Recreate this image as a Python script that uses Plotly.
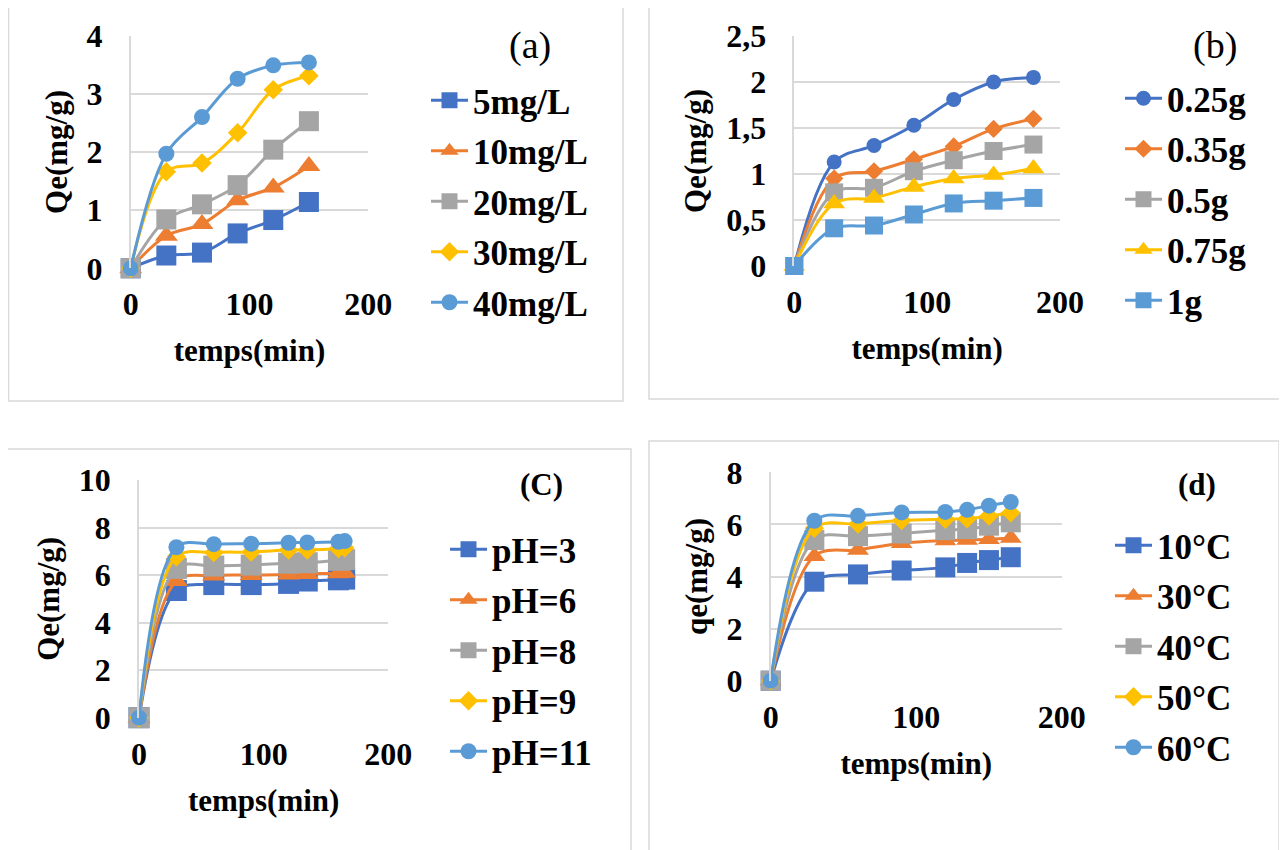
import plotly.graph_objects as go

# page body has an 8px margin: design in screen pixels, convert to figure pixels
OFF = 8
SW, SH = 1287, 850
W, H = SW - OFF, SH - OFF

# ---------------- data ----------------
time_a = [0, 30, 60, 90, 120, 150]
a_names = ["5mg/L", "10mg/L", "20mg/L", "30mg/L", "40mg/L"]
a_5 = [0, 0.22, 0.27, 0.60, 0.83, 1.14]
a_10 = [0, 0.56, 0.76, 1.17, 1.39, 1.76]
a_20 = [0, 0.84, 1.10, 1.43, 2.04, 2.53]
a_30 = [0, 1.66, 1.81, 2.33, 3.07, 3.31]
a_40 = [0, 1.97, 2.60, 3.26, 3.49, 3.54]

time_b = [0, 30, 60, 90, 120, 150, 180]
b_names = ["0.25g", "0.35g", "0.5g", "0.75g", "1g"]
b_025 = [0, 1.13, 1.31, 1.53, 1.81, 2.00, 2.05]
b_035 = [0, 0.95, 1.03, 1.16, 1.30, 1.49, 1.60]
b_05 = [0, 0.80, 0.85, 1.03, 1.15, 1.25, 1.32]
b_075 = [0, 0.68, 0.74, 0.86, 0.95, 0.99, 1.06]
b_1 = [0, 0.41, 0.44, 0.56, 0.68, 0.71, 0.74]

time_c = [0, 30, 60, 90, 120, 135, 160, 165]
c_names = ["pH=3", "pH=6", "pH=8", "pH=9", "pH=11"]
c_3 = [0, 5.35, 5.60, 5.60, 5.65, 5.75, 5.80, 5.83]
c_6 = [0, 5.75, 5.98, 6.00, 6.02, 6.05, 6.08, 6.10]
c_8 = [0, 6.28, 6.38, 6.42, 6.50, 6.52, 6.62, 6.65]
c_9 = [0, 6.77, 6.95, 6.97, 7.05, 7.05, 7.12, 7.15]
c_11 = [0, 7.17, 7.30, 7.32, 7.36, 7.37, 7.40, 7.43]

time_d = [0, 30, 60, 90, 120, 135, 150, 165]
d_names = ["10°C", "30°C", "40°C", "50°C", "60°C"]
d_10 = [0, 3.80, 4.08, 4.23, 4.35, 4.52, 4.63, 4.74]
d_30 = [0, 4.78, 5.02, 5.28, 5.38, 5.40, 5.43, 5.48]
d_40 = [0, 5.40, 5.55, 5.65, 5.78, 5.82, 5.95, 6.08]
d_50 = [0, 5.85, 6.02, 6.15, 6.20, 6.22, 6.32, 6.45]
d_60 = [0, 6.14, 6.33, 6.46, 6.48, 6.56, 6.72, 6.86]

x_ticks = [0, 100, 200]
a_yticks = [0, 1, 2, 3, 4]
a_ytext = ["0", "1", "2", "3", "4"]
b_yticks = [0, 0.5, 1, 1.5, 2, 2.5]
b_ytext = ["0", "0,5", "1", "1,5", "2", "2,5"]
c_yticks = [0, 2, 4, 6, 8, 10]
c_ytext = ["0", "2", "4", "6", "8", "10"]
d_yticks = [0, 2, 4, 6, 8]
d_ytext = ["0", "2", "4", "6", "8"]

x_title = "temps(min)"
y_titles = ["Qe(mg/g)", "Qe(mg/g)", "Qe(mg/g)", "qe(mg/g)"]
panel_labels = ["(a)", "(b)", "(C)", "(d)"]

# ---------------- styles ----------------
BLUE, ORANGE, GRAY, YELLOW, LBLUE = "#4472C4", "#ED7D31", "#A5A5A5", "#FFC000", "#5B9BD5"
FONT = "Liberation Serif, Times New Roman, serif"
GRID = "#D9D9D9"


def px_x(p):
    return (p - OFF) / W


def px_y(p):
    return 1 - (p - OFF) / H


fig = go.Figure()

# marker specs per panel: (color, symbol, size)
specs_a = [(BLUE, "square", 20), (ORANGE, "triangle-up", 20), (GRAY, "square", 20),
           (YELLOW, "diamond", 15), (LBLUE, "circle", 16)]
specs_b = [(BLUE, "circle", 15), (ORANGE, "diamond", 14), (GRAY, "square", 18),
           (YELLOW, "triangle-up", 19), (LBLUE, "square", 18)]
specs_c = [(BLUE, "square", 21), (ORANGE, "triangle-up", 20), (GRAY, "square", 21),
           (YELLOW, "diamond", 15), (LBLUE, "circle", 16)]
specs_d = [(BLUE, "square", 20), (ORANGE, "triangle-up", 19), (GRAY, "square", 20),
           (YELLOW, "diamond", 15), (LBLUE, "circle", 16)]

panels = [
    (time_a, [a_5, a_10, a_20, a_30, a_40], a_names, specs_a, "x", "y", "legend"),
    (time_b, [b_025, b_035, b_05, b_075, b_1], b_names, specs_b, "x2", "y2", "legend2"),
    (time_c, [c_3, c_6, c_8, c_9, c_11], c_names, specs_c, "x3", "y3", "legend3"),
    (time_d, [d_10, d_30, d_40, d_50, d_60], d_names, specs_d, "x4", "y4", "legend4"),
]

for pi, (t, series, names, specs, xa, ya, leg) in enumerate(panels):
    for si, (vals, name, (col, sym, sz)) in enumerate(zip(series, names, specs)):
        fig.add_trace(go.Scatter(
            x=t, y=vals, name=name, mode="lines+markers",
            line=dict(color=col, width=3, shape="spline", smoothing=1),
            marker=dict(color=col, symbol=sym, size=sz),
            xaxis=xa, yaxis=ya, legend=leg, legendgroup=f"p{pi}s{si}",
            cliponaxis=False, showlegend=True,
        ))

# plot areas in screen pixels: (x0, x1, ytop, ybottom)
areas = [
    (130.7, 368.3, 35.7, 268.3),
    (794.3, 1060.0, 36.0, 266.0),
    (139.0, 388.3, 480.0, 717.7),
    (770.7, 1061.7, 472.3, 680.7),
]
yr = [[0, 4], [0, 2.5], [0, 10], [0, 8]]
yt = [(a_yticks, a_ytext), (b_yticks, b_ytext), (c_yticks, c_ytext), (d_yticks, d_ytext)]

tickfont = dict(family=FONT, size=32, color="black", weight="bold")
titlefont = dict(family=FONT, size=31, color="black", weight="bold")

for i, (x0, x1, yt0, yb) in enumerate(areas):
    sfx = "" if i == 0 else str(i + 1)
    fig.layout["xaxis" + sfx] = dict(
        domain=[px_x(x0), px_x(x1)], range=[0, 200], anchor="y" + sfx,
        tickvals=x_ticks, ticktext=[str(v) for v in x_ticks],
        showgrid=False, zeroline=False, showline=False, ticks="",
        ticklabelstandoff=14, tickfont=tickfont, automargin=False,
        title=dict(text=x_title, font=titlefont, standoff=18),
    )
    fig.layout["yaxis" + sfx] = dict(
        domain=[px_y(yb), px_y(yt0)], range=yr[i], anchor="x" + sfx,
        tickvals=yt[i][0], ticktext=yt[i][1],
        showgrid=True, gridcolor=GRID, gridwidth=1.5, zeroline=False,
        showline=True, linecolor=GRID, linewidth=1.5, ticks="",
        ticklabelstandoff=20, tickfont=tickfont, automargin=False,
        title=dict(text=y_titles[i], font=titlefont, standoff=10),
    )

# legends (screen px of top-left)
leg_pos = [(426, 71), (1120, 69), (445, 520), (1110, 516)]
legfont = dict(family=FONT, size=35, color="black", weight="bold")
for i, (lx, ly) in enumerate(leg_pos):
    key = "legend" if i == 0 else f"legend{i + 1}"
    fig.layout[key] = dict(
        x=px_x(lx), y=px_y(ly), xanchor="left", yanchor="top",
        font=legfont, tracegroupgap=2, bgcolor="rgba(0,0,0,0)",
        itemwidth=37, traceorder="grouped",
    )

# panel labels
label_pos = [(530, 45, "normal", 38), (1215, 45, "normal", 38), (541, 484, "bold", 31), (1197, 484, "bold", 31)]
for (lx, ly, wt, sz), txt in zip(label_pos, panel_labels):
    fig.add_annotation(x=px_x(lx), y=px_y(ly), xref="paper", yref="paper", text=txt,
                       showarrow=False, xanchor="center", yanchor="middle",
                       font=dict(family=FONT, size=sz, color="black", weight=wt))

# panel frames (screen px)
frames = [(8.5, 5.5, 623, 401), (649, 5.5, 1281, 399), (1.5, 449, 631, 870), (649, 441, 1279, 870)]
for (fx0, fy0, fx1, fy1) in frames:
    fig.add_shape(type="rect", xref="paper", yref="paper",
                  x0=px_x(fx0), x1=px_x(fx1), y0=px_y(fy1), y1=px_y(fy0),
                  line=dict(color=GRID, width=1.5), fillcolor="rgba(0,0,0,0)", layer="below")

fig.update_layout(
    width=W, height=H, margin=dict(l=0, r=0, t=0, b=0, autoexpand=False),
    paper_bgcolor="white", plot_bgcolor="white", showlegend=True,
)

fig.write_html("out.html")
